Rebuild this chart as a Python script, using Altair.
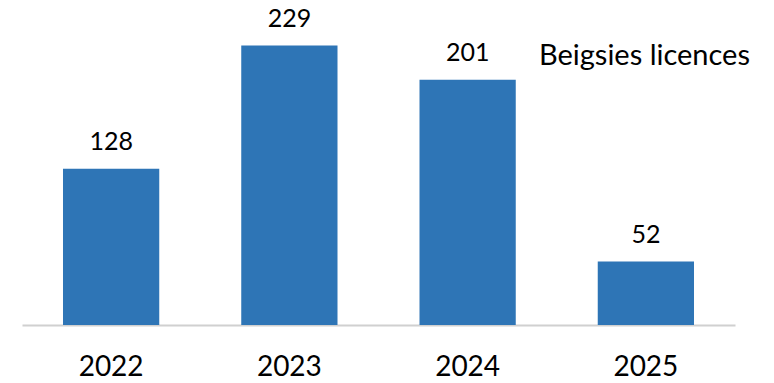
import altair as alt
import pandas as pd

years = ["2022", "2023", "2024", "2025"]
values = [128, 229, 201, 52]
series_label = "Beigsies licences"

df = pd.DataFrame({"year": years, "value": values})

base = alt.Chart(df)

x = alt.X("year:N", sort=years,
          scale=alt.Scale(paddingInner=0.46, paddingOuter=0.23),
          axis=alt.Axis(title=None, labelAngle=0, labelFont="Lato", labelFontSize=28,
                        labelColor="#000000", labelPadding=50, ticks=False,
                        labelBaseline="alphabetic",
                        domainColor="#d0d0d0", domainWidth=2))
y = alt.Y("value:Q", scale=alt.Scale(domain=[0, 250], nice=False), axis=None)

bars = base.mark_bar(color="#2E75B6").encode(x=x, y=y)
labels = base.mark_text(font="Lato", fontSize=25, baseline="alphabetic", dy=-19, color="#000000").encode(
    x=alt.X("year:N", sort=years), y="value:Q", text="value:Q")

title = alt.Chart(pd.DataFrame({"t": [series_label]})).mark_text(
    font="Lato", fontSize=29, align="right", baseline="alphabetic", color="#000000"
).encode(x=alt.value(728), y=alt.value(45), text="t:N")

chart = alt.layer(bars, labels, title).properties(
    width=713, height=305,
    padding={"left": 14, "top": 12, "right": 30, "bottom": 54},
    autosize=alt.AutoSizeParams(type="none"),
).configure_view(stroke=None)

chart.save("out.html", embed_options={"renderer": "svg", "actions": False})
